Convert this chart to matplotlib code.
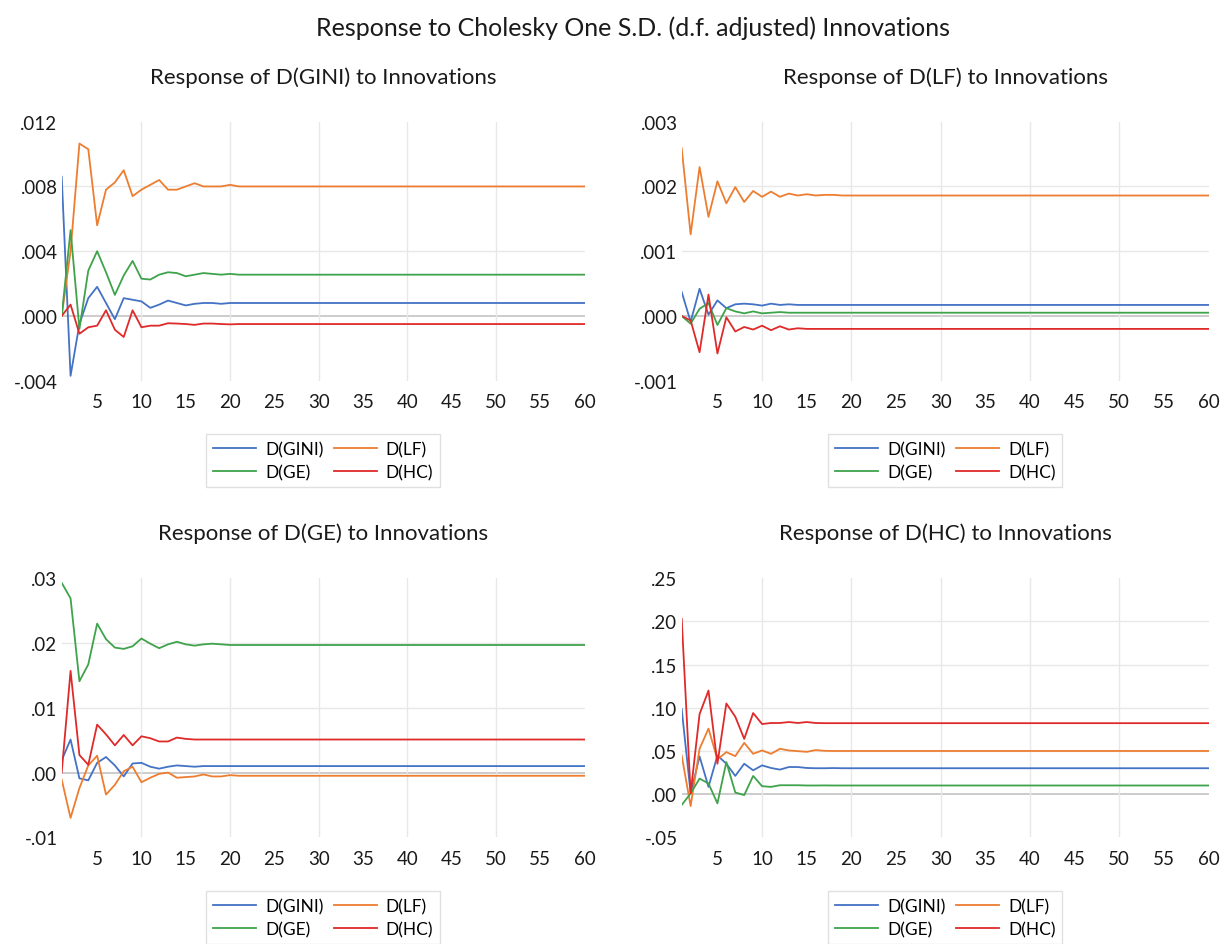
import matplotlib
matplotlib.use("Agg")
import matplotlib.pyplot as plt
import numpy as np

plt.rcParams['font.family'] = ['Lato', 'DejaVu Sans']

# ---------------- data ----------------
series_names = ["D(GINI)", "D(LF)", "D(GE)", "D(HC)"]
panel_titles = ["Response of D(GINI) to Innovations", "Response of D(LF) to Innovations",
                "Response of D(GE) to Innovations", "Response of D(HC) to Innovations"]
suptitle = "Response to Cholesky One S.D. (d.f. adjusted) Innovations"
x_ticks = [5, 10, 15, 20, 25, 30, 35, 40, 45, 50, 55, 60]

# Response of D(GINI)
gini_gini = [0.0086, -0.0037, -0.0005, 0.0011, 0.0018, 0.0008, -0.0002, 0.0011, 0.0010, 0.0009,
             0.0005, 0.0007, 0.00095, 0.0008, 0.00065, 0.00075, 0.0008, 0.0008, 0.00075, 0.0008,
             0.0008, 0.0008, 0.0008, 0.0008, 0.0008, 0.0008, 0.0008, 0.0008, 0.0008, 0.0008,
             0.0008, 0.0008, 0.0008, 0.0008, 0.0008, 0.0008, 0.0008, 0.0008, 0.0008, 0.0008,
             0.0008, 0.0008, 0.0008, 0.0008, 0.0008, 0.0008, 0.0008, 0.0008, 0.0008, 0.0008,
             0.0008, 0.0008, 0.0008, 0.0008, 0.0008, 0.0008, 0.0008, 0.0008, 0.0008, 0.0008]
gini_lf = [0.0, 0.0040, 0.01065, 0.0103, 0.0056, 0.0078, 0.00825, 0.0090, 0.0074, 0.0078,
           0.0081, 0.0084, 0.0078, 0.0078, 0.0080, 0.0082, 0.0080, 0.0080, 0.0080, 0.0081,
           0.0080, 0.0080, 0.0080, 0.0080, 0.0080, 0.0080, 0.0080, 0.0080, 0.0080, 0.0080,
           0.0080, 0.0080, 0.0080, 0.0080, 0.0080, 0.0080, 0.0080, 0.0080, 0.0080, 0.0080,
           0.0080, 0.0080, 0.0080, 0.0080, 0.0080, 0.0080, 0.0080, 0.0080, 0.0080, 0.0080,
           0.0080, 0.0080, 0.0080, 0.0080, 0.0080, 0.0080, 0.0080, 0.0080, 0.0080, 0.0080]
gini_ge = [0.0, 0.0053, -0.0008, 0.0028, 0.0040, 0.0027, 0.0013, 0.0025, 0.0034, 0.0023,
           0.00225, 0.00255, 0.0027, 0.00265, 0.00245, 0.00255, 0.00265, 0.0026, 0.00255, 0.0026,
           0.00255, 0.00255, 0.00255, 0.00255, 0.00255, 0.00255, 0.00255, 0.00255, 0.00255, 0.00255,
           0.00255, 0.00255, 0.00255, 0.00255, 0.00255, 0.00255, 0.00255, 0.00255, 0.00255, 0.00255,
           0.00255, 0.00255, 0.00255, 0.00255, 0.00255, 0.00255, 0.00255, 0.00255, 0.00255, 0.00255,
           0.00255, 0.00255, 0.00255, 0.00255, 0.00255, 0.00255, 0.00255, 0.00255, 0.00255, 0.00255]
gini_hc = [0.0, 0.0007, -0.0011, -0.0007, -0.0006, 0.00035, -0.00085, -0.0013, 0.00035, -0.0007,
           -0.0006, -0.0006, -0.00045, -0.00047, -0.0005, -0.00055, -0.00047, -0.00047, -0.0005, -0.00052,
           -0.0005, -0.0005, -0.0005, -0.0005, -0.0005, -0.0005, -0.0005, -0.0005, -0.0005, -0.0005,
           -0.0005, -0.0005, -0.0005, -0.0005, -0.0005, -0.0005, -0.0005, -0.0005, -0.0005, -0.0005,
           -0.0005, -0.0005, -0.0005, -0.0005, -0.0005, -0.0005, -0.0005, -0.0005, -0.0005, -0.0005,
           -0.0005, -0.0005, -0.0005, -0.0005, -0.0005, -0.0005, -0.0005, -0.0005, -0.0005, -0.0005]

# Response of D(LF)
lf_gini = [0.00037, -0.00009, 0.00042, 0.00002, 0.00024, 0.00012, 0.00018, 0.00019, 0.00018, 0.00016,
           0.00019, 0.00017, 0.00018, 0.00017, 0.00017, 0.00017, 0.00017, 0.00017, 0.00017, 0.00017,
           0.00017, 0.00017, 0.00017, 0.00017, 0.00017, 0.00017, 0.00017, 0.00017, 0.00017, 0.00017,
           0.00017, 0.00017, 0.00017, 0.00017, 0.00017, 0.00017, 0.00017, 0.00017, 0.00017, 0.00017,
           0.00017, 0.00017, 0.00017, 0.00017, 0.00017, 0.00017, 0.00017, 0.00017, 0.00017, 0.00017,
           0.00017, 0.00017, 0.00017, 0.00017, 0.00017, 0.00017, 0.00017, 0.00017, 0.00017, 0.00017]
lf_lf = [0.00259, 0.00126, 0.0023, 0.00153, 0.00208, 0.00174, 0.00199, 0.00176, 0.00193, 0.00184,
         0.00192, 0.00184, 0.00189, 0.00186, 0.00188, 0.00186, 0.00187, 0.00187, 0.00186, 0.00186,
         0.00186, 0.00186, 0.00186, 0.00186, 0.00186, 0.00186, 0.00186, 0.00186, 0.00186, 0.00186,
         0.00186, 0.00186, 0.00186, 0.00186, 0.00186, 0.00186, 0.00186, 0.00186, 0.00186, 0.00186,
         0.00186, 0.00186, 0.00186, 0.00186, 0.00186, 0.00186, 0.00186, 0.00186, 0.00186, 0.00186,
         0.00186, 0.00186, 0.00186, 0.00186, 0.00186, 0.00186, 0.00186, 0.00186, 0.00186, 0.00186]
lf_ge = [0.0, -0.00012, 0.00011, 0.0002, -0.00014, 0.00012, 0.00007, 0.00004, 0.00007, 0.00004,
         0.00005, 0.00006, 0.00005, 0.00005, 0.00005, 0.00005, 0.00005, 0.00005, 0.00005, 0.00005,
         0.00005, 0.00005, 0.00005, 0.00005, 0.00005, 0.00005, 0.00005, 0.00005, 0.00005, 0.00005,
         0.00005, 0.00005, 0.00005, 0.00005, 0.00005, 0.00005, 0.00005, 0.00005, 0.00005, 0.00005,
         0.00005, 0.00005, 0.00005, 0.00005, 0.00005, 0.00005, 0.00005, 0.00005, 0.00005, 0.00005,
         0.00005, 0.00005, 0.00005, 0.00005, 0.00005, 0.00005, 0.00005, 0.00005, 0.00005, 0.00005]
lf_hc = [0.0, -0.00007, -0.00056, 0.00033, -0.00058, -0.00002, -0.00024, -0.00017, -0.00021, -0.00015,
         -0.00022, -0.00016, -0.00021, -0.00019, -0.0002, -0.0002, -0.0002, -0.0002, -0.0002, -0.0002,
         -0.0002, -0.0002, -0.0002, -0.0002, -0.0002, -0.0002, -0.0002, -0.0002, -0.0002, -0.0002,
         -0.0002, -0.0002, -0.0002, -0.0002, -0.0002, -0.0002, -0.0002, -0.0002, -0.0002, -0.0002,
         -0.0002, -0.0002, -0.0002, -0.0002, -0.0002, -0.0002, -0.0002, -0.0002, -0.0002, -0.0002,
         -0.0002, -0.0002, -0.0002, -0.0002, -0.0002, -0.0002, -0.0002, -0.0002, -0.0002, -0.0002]

# Response of D(GE)
ge_gini = [0.0019, 0.0051, -0.0009, -0.0012, 0.0015, 0.0024, 0.0011, -0.0006, 0.0014, 0.0015,
           0.0009, 0.0006, 0.0009, 0.0011, 0.0010, 0.0009, 0.0010, 0.0010, 0.0010, 0.0010,
           0.0010, 0.0010, 0.0010, 0.0010, 0.0010, 0.0010, 0.0010, 0.0010, 0.0010, 0.0010,
           0.0010, 0.0010, 0.0010, 0.0010, 0.0010, 0.0010, 0.0010, 0.0010, 0.0010, 0.0010,
           0.0010, 0.0010, 0.0010, 0.0010, 0.0010, 0.0010, 0.0010, 0.0010, 0.0010, 0.0010,
           0.0010, 0.0010, 0.0010, 0.0010, 0.0010, 0.0010, 0.0010, 0.0010, 0.0010, 0.0010]
ge_lf = [-0.0011, -0.0070, -0.0024, 0.0011, 0.0026, -0.0034, -0.0019, 0.0002, 0.0009, -0.0015,
         -0.0008, -0.0002, 0.0, -0.0008, -0.0007, -0.0006, -0.0003, -0.0006, -0.0006, -0.0004,
         -0.0005, -0.0005, -0.0005, -0.0005, -0.0005, -0.0005, -0.0005, -0.0005, -0.0005, -0.0005,
         -0.0005, -0.0005, -0.0005, -0.0005, -0.0005, -0.0005, -0.0005, -0.0005, -0.0005, -0.0005,
         -0.0005, -0.0005, -0.0005, -0.0005, -0.0005, -0.0005, -0.0005, -0.0005, -0.0005, -0.0005,
         -0.0005, -0.0005, -0.0005, -0.0005, -0.0005, -0.0005, -0.0005, -0.0005, -0.0005, -0.0005]
ge_ge = [0.0293, 0.0269, 0.0141, 0.0167, 0.0230, 0.0206, 0.0193, 0.0191, 0.0195, 0.0207,
         0.0199, 0.0192, 0.0198, 0.0202, 0.0198, 0.0196, 0.0198, 0.0199, 0.0198, 0.0197,
         0.0197, 0.0197, 0.0197, 0.0197, 0.0197, 0.0197, 0.0197, 0.0197, 0.0197, 0.0197,
         0.0197, 0.0197, 0.0197, 0.0197, 0.0197, 0.0197, 0.0197, 0.0197, 0.0197, 0.0197,
         0.0197, 0.0197, 0.0197, 0.0197, 0.0197, 0.0197, 0.0197, 0.0197, 0.0197, 0.0197,
         0.0197, 0.0197, 0.0197, 0.0197, 0.0197, 0.0197, 0.0197, 0.0197, 0.0197, 0.0197]
ge_hc = [0.0, 0.0157, 0.0027, 0.0012, 0.0074, 0.0059, 0.0042, 0.0058, 0.0042, 0.0056,
         0.0053, 0.0048, 0.0048, 0.0054, 0.0052, 0.0051, 0.0051, 0.0051, 0.0051, 0.0051,
         0.0051, 0.0051, 0.0051, 0.0051, 0.0051, 0.0051, 0.0051, 0.0051, 0.0051, 0.0051,
         0.0051, 0.0051, 0.0051, 0.0051, 0.0051, 0.0051, 0.0051, 0.0051, 0.0051, 0.0051,
         0.0051, 0.0051, 0.0051, 0.0051, 0.0051, 0.0051, 0.0051, 0.0051, 0.0051, 0.0051,
         0.0051, 0.0051, 0.0051, 0.0051, 0.0051, 0.0051, 0.0051, 0.0051, 0.0051, 0.0051]

# Response of D(HC)
hc_gini = [0.0985, 0.001, 0.0437, 0.0084, 0.0448, 0.0352, 0.0211, 0.0352, 0.0276, 0.0333,
           0.0303, 0.0284, 0.0314, 0.0314, 0.0303, 0.0300, 0.0300, 0.0302, 0.0300, 0.0300,
           0.0300, 0.0300, 0.0300, 0.0300, 0.0300, 0.0300, 0.0300, 0.0300, 0.0300, 0.0300,
           0.0300, 0.0300, 0.0300, 0.0300, 0.0300, 0.0300, 0.0300, 0.0300, 0.0300, 0.0300,
           0.0300, 0.0300, 0.0300, 0.0300, 0.0300, 0.0300, 0.0300, 0.0300, 0.0300, 0.0300,
           0.0300, 0.0300, 0.0300, 0.0300, 0.0300, 0.0300, 0.0300, 0.0300, 0.0300, 0.0300]
hc_lf = [0.0448, -0.0138, 0.0525, 0.0759, 0.0402, 0.0487, 0.0440, 0.0594, 0.0467, 0.0506,
         0.0467, 0.0525, 0.0506, 0.0498, 0.0490, 0.0510, 0.0502, 0.0500, 0.0500, 0.0500,
         0.0500, 0.0500, 0.0500, 0.0500, 0.0500, 0.0500, 0.0500, 0.0500, 0.0500, 0.0500,
         0.0500, 0.0500, 0.0500, 0.0500, 0.0500, 0.0500, 0.0500, 0.0500, 0.0500, 0.0500,
         0.0500, 0.0500, 0.0500, 0.0500, 0.0500, 0.0500, 0.0500, 0.0500, 0.0500, 0.0500,
         0.0500, 0.0500, 0.0500, 0.0500, 0.0500, 0.0500, 0.0500, 0.0500, 0.0500, 0.0500]
hc_ge = [-0.0126, 0.0008, 0.0180, 0.0123, -0.0107, 0.0372, 0.0019, -0.0011, 0.0211, 0.0092,
         0.0084, 0.0103, 0.0103, 0.0103, 0.0100, 0.0100, 0.0101, 0.0100, 0.0100, 0.0100,
         0.0100, 0.0100, 0.0100, 0.0100, 0.0100, 0.0100, 0.0100, 0.0100, 0.0100, 0.0100,
         0.0100, 0.0100, 0.0100, 0.0100, 0.0100, 0.0100, 0.0100, 0.0100, 0.0100, 0.0100,
         0.0100, 0.0100, 0.0100, 0.0100, 0.0100, 0.0100, 0.0100, 0.0100, 0.0100, 0.0100,
         0.0100, 0.0100, 0.0100, 0.0100, 0.0100, 0.0100, 0.0100, 0.0100, 0.0100, 0.0100]
hc_hc = [0.203, 0.001, 0.0927, 0.120, 0.0352, 0.105, 0.0897, 0.064, 0.0939, 0.0812,
         0.0824, 0.0824, 0.0835, 0.0824, 0.0835, 0.0824, 0.0822, 0.0822, 0.0822, 0.0822,
         0.0822, 0.0822, 0.0822, 0.0822, 0.0822, 0.0822, 0.0822, 0.0822, 0.0822, 0.0822,
         0.0822, 0.0822, 0.0822, 0.0822, 0.0822, 0.0822, 0.0822, 0.0822, 0.0822, 0.0822,
         0.0822, 0.0822, 0.0822, 0.0822, 0.0822, 0.0822, 0.0822, 0.0822, 0.0822, 0.0822,
         0.0822, 0.0822, 0.0822, 0.0822, 0.0822, 0.0822, 0.0822, 0.0822, 0.0822, 0.0822]

y_ticks_1 = [-0.004, 0.000, 0.004, 0.008, 0.012]
y_labels_1 = ["-.004", ".000", ".004", ".008", ".012"]
y_ticks_2 = [-0.001, 0.000, 0.001, 0.002, 0.003]
y_labels_2 = ["-.001", ".000", ".001", ".002", ".003"]
y_ticks_3 = [-0.01, 0.00, 0.01, 0.02, 0.03]
y_labels_3 = ["-.01", ".00", ".01", ".02", ".03"]
y_ticks_4 = [-0.05, 0.00, 0.05, 0.10, 0.15, 0.20, 0.25]
y_labels_4 = ["-.05", ".00", ".05", ".10", ".15", ".20", ".25"]

colors = ["#4472C4", "#ED7D31", "#3FA34B", "#DF2A2A"]

panels = [
    (panel_titles[0], [gini_gini, gini_lf, gini_ge, gini_hc], y_ticks_1, y_labels_1),
    (panel_titles[1], [lf_gini, lf_lf, lf_ge, lf_hc], y_ticks_2, y_labels_2),
    (panel_titles[2], [ge_gini, ge_lf, ge_ge, ge_hc], y_ticks_3, y_labels_3),
    (panel_titles[3], [hc_gini, hc_lf, hc_ge, hc_hc], y_ticks_4, y_labels_4),
]

# ---------------- layout (pixels) ----------------
W, H = 1226, 945
rects_px = [(61.7, 122.7, 584.5, 381.7),
            (681.7, 122.7, 1208.6, 381.7),
            (61.7, 579.3, 584.5, 838.3),
            (681.7, 579.3, 1208.6, 838.3)]
legend_tops = [435, 435, 892, 892]

fig = plt.figure(figsize=(W / 100, H / 100), dpi=100)
fig.text(633 / W, 1 - 28 / H, suptitle, ha='center', va='center', fontsize=18, color='#1a1a1a')

for (title, data, yt, yl), (x0, y0, x1, y1), ltop in zip(panels, rects_px, legend_tops):
    ax = fig.add_axes([x0 / W, 1 - y1 / H, (x1 - x0) / W, (y1 - y0) / H])
    ax.set_xlim(1, 60)
    ax.set_ylim(yt[0], yt[-1])
    # gridlines
    for t in yt[1:-1]:
        ax.axhline(t, color='#BFBFBF' if t == 0 else '#E8E8E8', lw=1.1 if t == 0 else 1.0, zorder=0)
    for xv in x_ticks:
        if xv % 10 == 0 and xv < 60:
            ax.axvline(xv, color='#E8E8E8', lw=1.0, zorder=0)
    handles = []
    for s, c, name in zip(data, colors, series_names):
        xs = np.arange(1, len(s) + 1)
        h, = ax.plot(xs, s, color=c, lw=1.3, label=name, zorder=3)
        handles.append(h)
    for sp in ax.spines.values():
        sp.set_visible(False)
    ax.set_xticks(x_ticks)
    ax.set_xticklabels([str(v) for v in x_ticks])
    ax.set_yticks(yt)
    ax.set_yticklabels(yl)
    ax.tick_params(axis='both', length=0, labelsize=13.5, colors='#1a1a1a')
    ax.tick_params(axis='x', pad=9)
    ax.tick_params(axis='y', pad=3)
    ax.set_title(title, fontsize=16, pad=28, color='#1a1a1a')
    order = [0, 2, 1, 3]
    leg = fig.legend([handles[i] for i in order], [series_names[i] for i in order],
                     loc='upper center', bbox_to_anchor=((x0 + x1) / 2 / W, 1 - ltop / H),
                     borderaxespad=0.0,
                     ncol=2, fontsize=12.5, frameon=True, fancybox=False,
                     handlelength=2.5, handletextpad=0.5, columnspacing=0.6,
                     labelspacing=0.4, borderpad=0.4)
    leg.get_frame().set_edgecolor('#D9D9D9')
    leg.get_frame().set_linewidth(1.0)

fig.savefig("out.png", dpi=100)
